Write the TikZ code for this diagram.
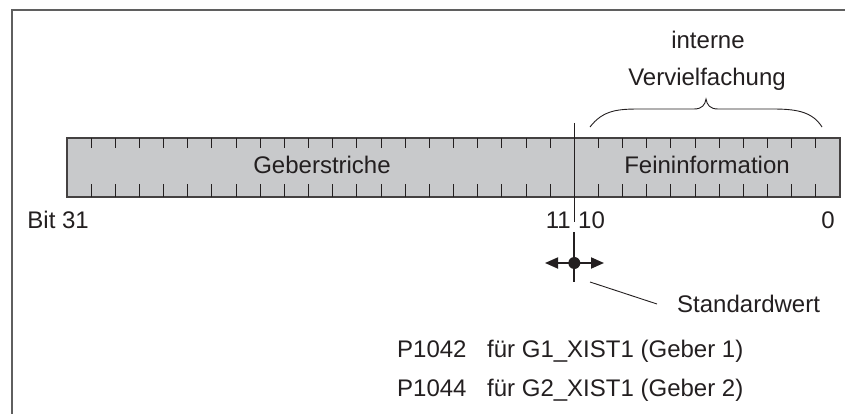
\documentclass[tikz,border=0pt]{standalone}
\usepackage{fontspec}
\setmainfont{Liberation Sans}
\usetikzlibrary{arrows.meta}
\definecolor{barfill}{HTML}{C8C9CB}
\definecolor{ink}{HTML}{231F20}
\definecolor{framegray}{HTML}{5F5F5F}
\begin{document}
\begin{tikzpicture}[x=1pt,y=-1pt, font=\fontsize{24}{29}\selectfont,
  lbl/.style={inner sep=0pt, text=ink},
  tick/.style={draw=ink, line width=0.9pt},
  cursor/.style={draw=ink, line width=1.8pt}]
\useasboundingbox (0,0) rectangle (845,414);
% frame, open to the right and bottom
\draw[framegray, line width=1.4pt] (12,414) -- (12,10) -- (845,10);
% register bar
\node[draw=ink!85, fill=barfill, line width=1.4pt, rectangle, minimum width=773pt, minimum height=59pt, inner sep=0pt] (bar) at (453.5,167.5) {};
\foreach \i in {1,...,20,22,23,...,31} {
  \draw[tick] (67+\i*24.156,138) -- ++(0,10);
  \draw[tick] (67+\i*24.156,197) -- ++(0,-13);
}
\coordinate (divtop) at (574.3,123);
\coordinate (divbot) at (574.3,222);
\draw[ink, line width=1.1pt] (divtop) -- (divbot);
\node[lbl, anchor=base] (geb) at (322,174) {Geberstriche};
\node[lbl, anchor=base] (fein) at (707,174) {Feininformation};
% bit numbers
\node[lbl, anchor=base east] (b31) at (89,228) {Bit 31};
\node[lbl, anchor=base east] (b11) at (571,228) {11};
\node[lbl, anchor=base west] (b10) at (578,228) {10};
\node[lbl, anchor=base] (b0) at (828,228) {0};
% brace over the fine information
\coordinate (brl) at (590,127);
\coordinate (brr) at (822,127);
\coordinate (brtip) at (706,99);
\draw[ink, line width=0.9pt] (brl) .. controls (603,110) and (618,109) .. (640,109) -- (694,109)
  .. controls (702,109) and (705,105) .. (brtip) .. controls (707,105) and (710,109) .. (718,109)
  -- (772,109) .. controls (795,109) and (812,111) .. (brr);
\node[lbl, anchor=base] (int) at (708,49) {interne};
\node[lbl, anchor=base] (verv) at (707,86) {Vervielfachung};
% shift cursor
\coordinate (cur) at (574.3,263);
\coordinate (curtop) at (574.3,232);
\coordinate (curbot) at (574.3,282);
\coordinate (curl) at (545,263);
\coordinate (curr) at (604,263);
\draw[cursor] (curtop) -- (curbot);
\draw[cursor, -{Triangle[length=13pt,width=11pt]}] (cur) -- (curl);
\draw[cursor, -{Triangle[length=13pt,width=11pt]}] (cur) -- (curr);
\node[circle, fill=ink, inner sep=0pt, minimum size=12pt] (dot) at (cur) {};
\coordinate (ldstart) at (590,282);
\coordinate (ldend) at (657,304);
\draw[ink, line width=0.9pt] (ldstart) -- (ldend);
\node[lbl, anchor=base west] (std) at (677,312) {Standardwert};
% parameters
\node[lbl, anchor=base west] (p1) at (397,357) {P1042};
\node[lbl, anchor=base west] (g1) at (487,357) {für G1\_XIST1 (Geber 1)};
\node[lbl, anchor=base west] (p2) at (397,396) {P1044};
\node[lbl, anchor=base west] (g2) at (487,396) {für G2\_XIST1 (Geber 2)};
\end{tikzpicture}
\end{document}
